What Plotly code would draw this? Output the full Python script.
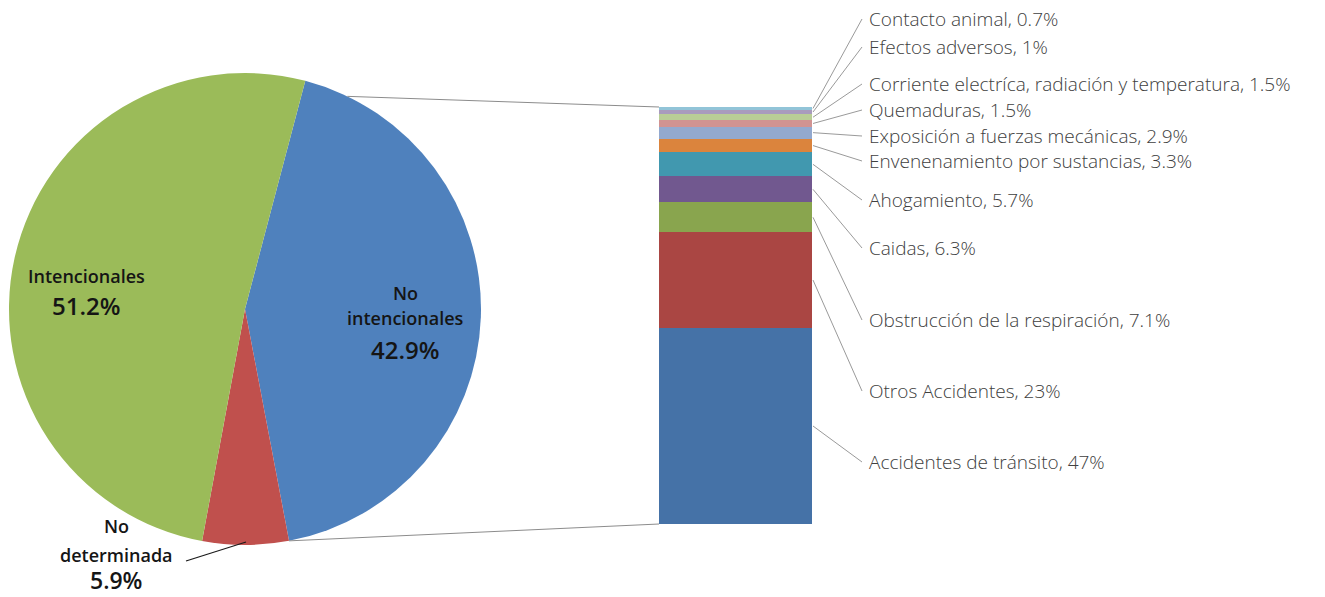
import math
import plotly.graph_objects as go

W, H = 1325, 597

# Main split: intentional vs unintentional injuries
pie_labels = ["No intencionales", "No determinada", "Intencionales"]
pie_values = [42.9, 5.9, 51.2]
pie_colors = ["#4F81BD", "#C0504D", "#9BBB59"]

# Breakdown of the unintentional share (bottom of the stack first)
bar_labels = [
    "Accidentes de tránsito",
    "Otros Accidentes",
    "Obstrucción de la respiración",
    "Caidas",
    "Ahogamiento",
    "Envenenamiento por sustancias",
    "Exposición a fuerzas mecánicas",
    "Quemaduras",
    "Corriente electríca, radiación y temperatura",
    "Efectos adversos",
    "Contacto animal",
]
bar_values = [47, 23, 7.1, 6.3, 5.7, 3.3, 2.9, 1.5, 1.5, 1, 0.7]
bar_colors = [
    "#4572A7", "#AA4643", "#89A54E", "#71588F", "#4198AF", "#DB843D",
    "#93A9CF", "#D19392", "#B9CD96", "#A99BBD", "#92C4D8",
]

# ---- layout geometry (pixels) ----
cx, cy, r = 245, 309, 236
pie_rotation = 14.8
bar_x0, bar_x1, bar_top, bar_bottom = 659, 812, 107, 524
label_x = 867
label_line_end = 862
label_y = [462, 391, 320, 248, 200, 161, 136, 110, 84, 47, 19]


def px(x):
    return x / W


def py(y):
    return 1 - y / H


def on_circle(deg):
    a = math.radians(deg)
    return cx + r * math.sin(a), cy - r * math.cos(a)


fig = go.Figure()

fig.add_trace(go.Pie(
    labels=pie_labels,
    values=pie_values,
    sort=False,
    direction="clockwise",
    rotation=pie_rotation,
    marker=dict(colors=pie_colors, line=dict(color="#FFFFFF", width=0)),
    textinfo="none",
    hoverinfo="label+percent",
    domain=dict(x=[px(cx - r), px(cx + r)], y=[py(cy + r), py(cy - r)]),
    showlegend=False,
))

for lab, val, col in zip(bar_labels, bar_values, bar_colors):
    fig.add_trace(go.Bar(
        x=[0.5], y=[val], width=[1], name=lab,
        marker=dict(color=col, line=dict(width=0)),
        showlegend=False, xaxis="x", yaxis="y",
    ))

total = sum(bar_values)
shapes = []
annotations = []

# leader lines and labels for the stacked bar
scale = (bar_bottom - bar_top) / total
cum = 0
for lab, val, ly in zip(bar_labels, bar_values, label_y):
    mid = bar_bottom - (cum + val / 2) * scale
    cum += val
    shapes.append(dict(type="line", xref="paper", yref="paper",
                       x0=px(bar_x1 + 1), y0=py(mid), x1=px(label_line_end), y1=py(ly),
                       line=dict(color="#9A9A9A", width=1)))
    annotations.append(dict(
        x=px(label_x), y=py(ly), xref="paper", yref="paper",
        text=f"{lab}, {val:g}%", showarrow=False, xanchor="left", yanchor="middle",
        font=dict(family="Open Sans", size=19, color="#404040", weight=300),
    ))

# series lines from the split slice to the bar
blue_end = pie_rotation + 360 * pie_values[0] / sum(pie_values)
tx, ty = on_circle(25.7)
bx, by = on_circle(blue_end)
shapes.append(dict(type="line", xref="paper", yref="paper",
                   x0=px(tx), y0=py(ty), x1=px(bar_x0), y1=py(bar_top),
                   line=dict(color="#8C8C8C", width=1)))
shapes.append(dict(type="line", xref="paper", yref="paper",
                   x0=px(bx), y0=py(by), x1=px(bar_x0), y1=py(bar_bottom),
                   line=dict(color="#8C8C8C", width=1)))

# pie slice labels
lab_font = dict(family="Open Sans", size=18, color="#151515", weight=600)
pct_font = dict(family="Open Sans", size=24, color="#151515", weight=600)


def pie_label(lines, x, ys, pct_size=24):
    fonts = [lab_font] * (len(lines) - 1) + [dict(pct_font, size=pct_size)]
    for t, y, f in zip(lines, ys, fonts):
        annotations.append(dict(x=px(x), y=py(y), xref="paper", yref="paper",
                                text=t, showarrow=False, xanchor="center",
                                yanchor="middle", font=f, borderpad=0))


pie_label(["No", "intencionales", f"{pie_values[0]:.1f}%"], 405, [293, 318, 349])
pie_label(["No", "determinada", f"{pie_values[1]:.1f}%"], 116, [526, 555, 580], pct_size=23)
pie_label(["Intencionales", f"{pie_values[2]:.1f}%"], 86, [276, 305])

# leader for the small slice label
shapes.append(dict(type="line", xref="paper", yref="paper",
                   x0=px(186), y0=py(561), x1=px(246), y1=py(542),
                   line=dict(color="#1A1A1A", width=1.2)))

fig.update_layout(
    width=W, height=H,
    margin=dict(l=0, r=0, t=0, b=0),
    paper_bgcolor="white", plot_bgcolor="white",
    barmode="stack", bargap=0,
    xaxis=dict(domain=[px(bar_x0), px(bar_x1)], range=[0, 1], visible=False, fixedrange=True),
    yaxis=dict(domain=[py(bar_bottom), py(bar_top)], range=[0, total], visible=False, fixedrange=True),
    shapes=shapes, annotations=annotations,
)

fig.write_html("out.html")
